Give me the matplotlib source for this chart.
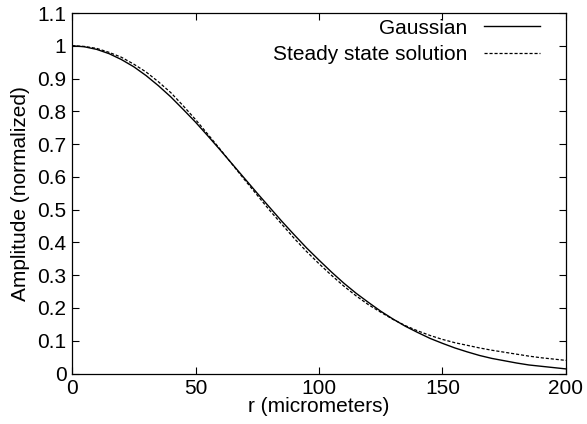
import matplotlib
matplotlib.use("Agg")
import matplotlib.pyplot as plt

plt.rcParams['font.family'] = ['Liberation Sans', 'DejaVu Sans']

### donnees
r = [0, 5, 10, 15, 20, 25, 30, 35, 40, 45, 50, 55, 60, 65, 70, 75, 80, 85, 90, 95, 100,
     105, 110, 115, 120, 125, 130, 135, 140, 145, 150, 155, 160, 165, 170, 175, 180,
     185, 190, 195, 200]
gauss = [1.0, 0.997, 0.989, 0.976, 0.958, 0.936, 0.909, 0.878, 0.844, 0.806, 0.767,
         0.725, 0.682, 0.638, 0.594, 0.550, 0.507, 0.464, 0.423, 0.383, 0.346,
         0.310, 0.276, 0.245, 0.217, 0.190, 0.166, 0.144, 0.125, 0.107, 0.092,
         0.078, 0.066, 0.055, 0.046, 0.039, 0.032, 0.026, 0.022, 0.018, 0.014]
steady = [1.0, 0.998, 0.992, 0.980, 0.965, 0.944, 0.920, 0.890, 0.857, 0.817, 0.775,
          0.730, 0.684, 0.637, 0.590, 0.544, 0.498, 0.455, 0.412, 0.372, 0.335,
          0.300, 0.267, 0.237, 0.210, 0.187, 0.165, 0.146, 0.130, 0.116, 0.104,
          0.094, 0.086, 0.078, 0.071, 0.065, 0.059, 0.053, 0.048, 0.044, 0.040]

xticks = [0, 50, 100, 150, 200]
yticks = [0, 0.1, 0.2, 0.3, 0.4, 0.5, 0.6, 0.7, 0.8, 0.9, 1.0, 1.1]
ylabels = ["0", "0.1", "0.2", "0.3", "0.4", "0.5", "0.6", "0.7", "0.8", "0.9", "1", "1.1"]

fig = plt.figure(figsize=(5.87, 4.24), dpi=100)
ax = fig.add_axes([0.1227, 0.1191, 0.8415, 0.8502])

ax.plot(r, gauss, color="black", lw=1.0, label="Gaussian")
ax.plot(r, steady, color="black", lw=0.9, ls=(0, (2.5, 1.5)), label="Steady state solution")

ax.set_xlim(0, 200)
ax.set_ylim(0, 1.1)
ax.set_xticks(xticks)
ax.set_yticks(yticks)
ax.set_yticklabels(ylabels)
ax.tick_params(direction="in", top=True, right=True, length=5, width=0.8,
               labelsize=15, pad=4)
for s in ax.spines.values():
    s.set_linewidth(0.9)

ax.set_xlabel("r (micrometers)", fontsize=15, labelpad=-1)
ax.set_ylabel("Amplitude (normalized)", fontsize=15, labelpad=5)

ax.legend(loc="upper right", bbox_to_anchor=(0.947, 0.984), frameon=False,
          markerfirst=False, fontsize=15, handlelength=2.7, borderpad=0,
          borderaxespad=0, labelspacing=0.35, handletextpad=0.8)

fig.savefig("out.png", dpi=100)
